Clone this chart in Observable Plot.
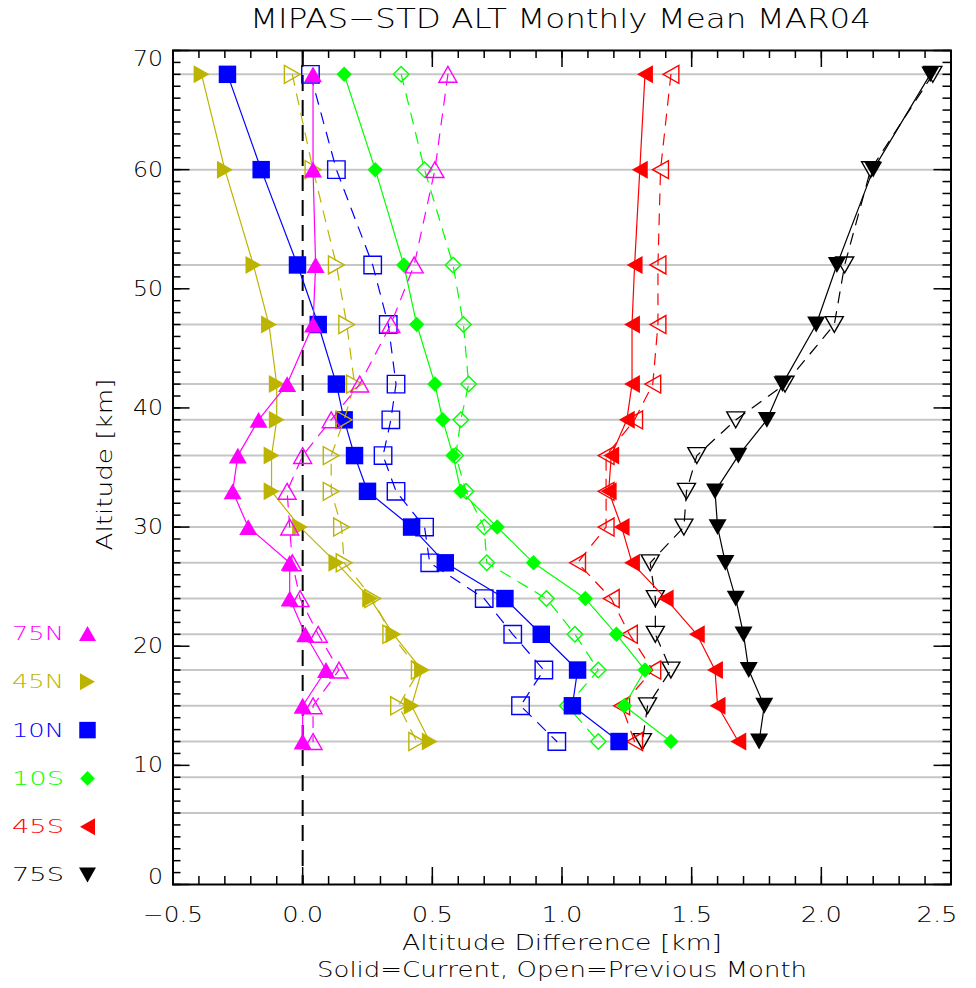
<!DOCTYPE html>
<html>
<head>
<meta charset="utf-8">
<script src="https://cdn.jsdelivr.net/npm/d3@7"></script>
<script src="https://cdn.jsdelivr.net/npm/@observablehq/plot@0.6"></script>
<style>
  html, body { margin: 0; padding: 0; background: #ffffff; }
  #chart svg { display: block; }
</style>
</head>
<body>
<div id="chart"></div>
<script>
// ---------- data ----------
const altitudes = [68, 60, 52, 47, 42, 39, 36, 33, 30, 27, 24, 21, 18, 15, 12];
const gridLevels = [68, 60, 52, 47, 42, 39, 36, 33, 30, 27, 24, 21, 18, 15, 12, 9, 6];

const regionLabels = ["75N", "45N", "10N", "10S", "45S", "75S"];
const regionColors = ["#ff00ff", "#bcb400", "#0000ff", "#00ff00", "#ff0000", "#000000"];

// current month (solid)
const cur75N = [0.04, 0.04, 0.05, 0.04, -0.06, -0.17, -0.25, -0.27, -0.21, -0.05, -0.05, 0.01, 0.09, 0.00, 0.00];
const cur45N = [-0.39, -0.30, -0.19, -0.13, -0.10, -0.10, -0.12, -0.12, -0.01, 0.13, 0.26, 0.35, 0.46, 0.42, 0.49];
const cur10N = [-0.29, -0.16, -0.02, 0.06, 0.13, 0.16, 0.20, 0.25, 0.42, 0.55, 0.78, 0.92, 1.06, 1.04, 1.22];
const cur10S = [0.16, 0.28, 0.39, 0.44, 0.51, 0.54, 0.58, 0.61, 0.75, 0.89, 1.09, 1.21, 1.32, 1.24, 1.42];
const cur45S = [1.32, 1.30, 1.28, 1.27, 1.27, 1.25, 1.19, 1.18, 1.23, 1.27, 1.40, 1.52, 1.59, 1.60, 1.68];
const cur75S = [2.42, 2.20, 2.06, 1.98, 1.85, 1.79, 1.68, 1.59, 1.60, 1.63, 1.67, 1.70, 1.72, 1.78, 1.76];

// previous month (open)
const prev75N = [0.56, 0.51, 0.43, 0.34, 0.22, 0.11, 0.00, -0.06, -0.05, -0.04, -0.01, 0.06, 0.14, 0.04, 0.04];
const prev45N = [-0.04, 0.04, 0.13, 0.17, 0.20, 0.16, 0.11, 0.11, 0.15, 0.16, 0.27, 0.34, 0.45, 0.37, 0.44];
const prev10N = [0.03, 0.13, 0.27, 0.33, 0.36, 0.34, 0.31, 0.36, 0.47, 0.49, 0.70, 0.81, 0.93, 0.84, 0.98];
const prev10S = [0.38, 0.47, 0.58, 0.62, 0.64, 0.61, 0.59, 0.63, 0.70, 0.71, 0.94, 1.05, 1.14, 1.02, 1.14];
const prev45S = [1.42, 1.38, 1.37, 1.37, 1.35, 1.28, 1.17, 1.17, 1.17, 1.06, 1.19, 1.26, 1.35, 1.23, 1.28];
const prev75S = [2.43, 2.19, 2.09, 2.05, 1.86, 1.67, 1.52, 1.48, 1.47, 1.34, 1.36, 1.36, 1.42, 1.33, 1.31];

const xTickLabels = [-0.5, 0.0, 0.5, 1.0, 1.5, 2.0, 2.5];
const yTickLabels = [0, 10, 20, 30, 40, 50, 60, 70];

const titleText = "MIPAS\u2212STD ALT Monthly Mean MAR04";
const xLabelText = "Altitude Difference [km]";
const subLabelText = "Solid=Current, Open=Previous Month";
const yLabelText = "Altitude [km]";

// ---------- symbols ----------
function polySymbol(pts) {
  return {
    draw(ctx, size) {
      const r = Math.sqrt(size / Math.PI);
      ctx.moveTo(pts[0][0] * r, pts[0][1] * r);
      for (let k = 1; k < pts.length; k++) ctx.lineTo(pts[k][0] * r, pts[k][1] * r);
      ctx.closePath();
    }
  };
}
const symUp = polySymbol([[0, -0.88], [1, 0.88], [-1, 0.88]]);
const symRight = polySymbol([[0.88, 0], [-0.88, -1], [-0.88, 1]]);
const symSquare = polySymbol([[-0.97, -0.97], [0.97, -0.97], [0.97, 0.97], [-0.97, 0.97]]);
const symDiamond = polySymbol([[0, -0.86], [0.86, 0], [0, 0.86], [-0.86, 0]]);
const symLeft = polySymbol([[-0.88, 0], [0.88, -1], [0.88, 1]]);
const symDown = polySymbol([[0, 0.88], [1, -0.88], [-1, -0.88]]);
const regionSymbols = [symUp, symRight, symSquare, symDiamond, symLeft, symDown];

const curArrays = [cur75N, cur45N, cur10N, cur10S, cur45S, cur75S];
const prevArrays = [prev75N, prev45N, prev10N, prev10S, prev45S, prev75S];

// ---------- layout ----------
const W = 976, H = 988;
const mL = 172.5, mR = 25.5, mT = 50, mB = 104;
const innerW = W - mL - mR, innerH = H - mT - mB;
const FONT_W = 200;

const xMinor = d3.range(-5, 26).map(i => i / 10);
const yMinor = d3.range(0, 71);

const toRows = arr => altitudes.map((alt, j) => ({alt, v: arr[j]}));

const seriesMarks = [];
for (let i = regionLabels.length - 1; i >= 0; i--) {
  const color = regionColors[i];
  const cur = toRows(curArrays[i]);
  const prev = toRows(prevArrays[i]);
  seriesMarks.push(
    Plot.line(prev, {x: "v", y: "alt", stroke: color, strokeWidth: 1.2, strokeDasharray: "11,9"}),
    Plot.line(cur, {x: "v", y: "alt", stroke: color, strokeWidth: 1.2}),
    Plot.dot(prev, {x: "v", y: "alt", symbol: regionSymbols[i], r: 9, fill: "none", stroke: color, strokeWidth: 1.4}),
    Plot.dot(cur, {x: "v", y: "alt", symbol: regionSymbols[i], r: 9, fill: color, stroke: "none"})
  );
}

const legendMarks = [];
regionLabels.forEach((lab, i) => {
  const dy = -251 + i * 48.3;
  legendMarks.push(
    Plot.text([lab], {text: d => d, frameAnchor: "bottom-left", lineAnchor: "middle", dx: 63.5 - mL, dy, textAnchor: "end", fill: regionColors[i], fontSize: 20, fontWeight: FONT_W}),
    Plot.dot([lab], {frameAnchor: "bottom-left", dx: 87 - mL, dy, symbol: regionSymbols[i], r: 8.5, fill: regionColors[i], stroke: "none"})
  );
});

const fmtX = d3.format(".1f");
const axisXOpts = {tickFormat: fmtX, tickSize: 0, tickPadding: 22.5, fontSize: 21, fontWeight: FONT_W, label: null};
const axisYOpts = {tickFormat: d => String(d), tickSize: 0, tickPadding: 10, fontSize: 22, fontWeight: FONT_W, label: null};

const plot = Plot.plot({
  width: W,
  height: H,
  marginLeft: mL,
  marginRight: mR,
  marginTop: mT,
  marginBottom: mB,
  style: {fontFamily: "DejaVu Sans", background: "white", overflow: "visible"},
  x: {domain: [-0.5, 2.5]},
  y: {domain: [0, 70]},
  marks: [
    Plot.ruleY(gridLevels, {y: d => d, stroke: "#c6c6c6", strokeWidth: 2}),
    Plot.ruleX([0], {x: d => d, stroke: "black", strokeWidth: 2, strokeDasharray: "16,9"}),
    ...seriesMarks,
    Plot.frame({stroke: "black", strokeWidth: 2}),
    // x ticks (inward), bottom & top
    Plot.tickX(xMinor, {x: d => d, insetTop: innerH - 8, stroke: "black", strokeWidth: 1.5}),
    Plot.tickX(xMinor, {x: d => d, insetBottom: innerH - 8, stroke: "black", strokeWidth: 1.5}),
    Plot.tickX(xTickLabels, {x: d => d, insetTop: innerH - 17, stroke: "black", strokeWidth: 1.5}),
    Plot.tickX(xTickLabels, {x: d => d, insetBottom: innerH - 17, stroke: "black", strokeWidth: 1.5}),
    // y ticks (inward), left & right
    Plot.tickY(yMinor, {y: d => d, insetRight: innerW - 8, stroke: "black", strokeWidth: 1.5}),
    Plot.tickY(yMinor, {y: d => d, insetLeft: innerW - 8, stroke: "black", strokeWidth: 1.5}),
    Plot.tickY(yTickLabels, {y: d => d, insetRight: innerW - 17, stroke: "black", strokeWidth: 1.5}),
    Plot.tickY(yTickLabels, {y: d => d, insetLeft: innerW - 17, stroke: "black", strokeWidth: 1.5}),
    // tick labels (end labels pulled inward as in the original)
    Plot.axisX({...axisXOpts, ticks: xTickLabels.slice(0, -1)}),
    Plot.axisX({...axisXOpts, ticks: xTickLabels.slice(-1), dx: -14}),
    Plot.axisY({...axisYOpts, ticks: yTickLabels.slice(1, -1)}),
    Plot.axisY({...axisYOpts, ticks: yTickLabels.slice(0, 1), dy: -8}),
    Plot.axisY({...axisYOpts, ticks: yTickLabels.slice(-1), dy: 8}),
    Plot.text([titleText], {text: d => d, frameAnchor: "top", lineAnchor: "middle", dy: 19 - mT, dx: -1.5, fontSize: 27, fontWeight: FONT_W}),
    Plot.text([xLabelText], {text: d => d, frameAnchor: "bottom", lineAnchor: "middle", dy: 943 - (H - mB), fontSize: 21, fontWeight: FONT_W}),
    Plot.text([subLabelText], {text: d => d, frameAnchor: "bottom", lineAnchor: "middle", dy: 970 - (H - mB), fontSize: 21, fontWeight: FONT_W}),
    Plot.text([yLabelText], {text: d => d, frameAnchor: "left", textAnchor: "middle", lineAnchor: "middle", dx: 105 - mL, dy: -3, rotate: -90, fontSize: 21, fontWeight: FONT_W}),
    ...legendMarks
  ]
});

document.getElementById("chart").appendChild(plot);

// stretch the text to the wide vector-font look of the original
const fitWidths = new Map([
  [titleText, 621],
  [xLabelText, 320],
  [subLabelText, 490],
  [yLabelText, 172]
]);
regionLabels.forEach(l => fitWidths.set(l, 52));
xTickLabels.forEach(v => {
  const s = fmtX(v);
  fitWidths.set(s, s.length > 3 ? 60 : 41);
});
yTickLabels.forEach(v => fitWidths.set(String(v), v === 0 ? 15 : 30));

d3.select(plot).selectAll("text").each(function () {
  const w = fitWidths.get(this.textContent);
  if (w) {
    this.setAttribute("textLength", w);
    this.setAttribute("lengthAdjust", "spacingAndGlyphs");
  }
});
</script>
</body>
</html>
